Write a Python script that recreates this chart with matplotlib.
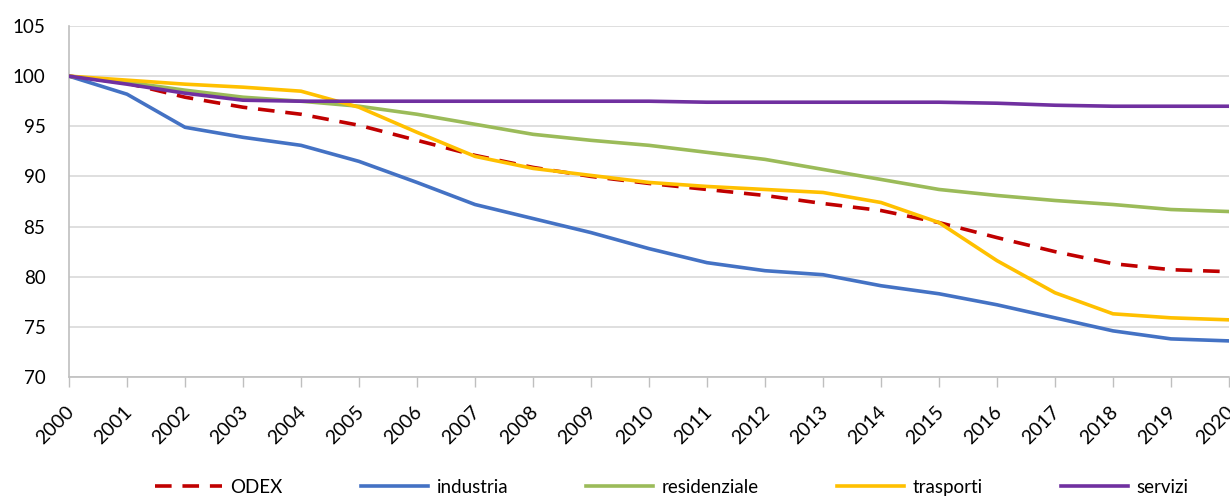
import matplotlib
matplotlib.use("Agg")
import matplotlib.pyplot as plt
from matplotlib.transforms import ScaledTranslation

years = list(range(2000, 2021))
odex = [100, 99.3, 97.9, 96.9, 96.2, 95.1, 93.6, 92.1, 90.9, 90.0, 89.3, 88.7, 88.1, 87.3, 86.6, 85.4, 83.9, 82.5, 81.3, 80.7, 80.5]
industria = [100, 98.2, 94.9, 93.9, 93.1, 91.5, 89.4, 87.2, 85.8, 84.4, 82.8, 81.4, 80.6, 80.2, 79.1, 78.3, 77.2, 75.9, 74.6, 73.8, 73.6]
residenziale = [100, 99.4, 98.6, 97.9, 97.5, 97.0, 96.2, 95.2, 94.2, 93.6, 93.1, 92.4, 91.7, 90.7, 89.7, 88.7, 88.1, 87.6, 87.2, 86.7, 86.5]
trasporti = [100, 99.6, 99.2, 98.9, 98.5, 96.9, 94.4, 92.0, 90.8, 90.1, 89.4, 89.0, 88.7, 88.4, 87.4, 85.4, 81.6, 78.4, 76.3, 75.9, 75.7]
servizi = [100, 99.2, 98.3, 97.6, 97.5, 97.5, 97.5, 97.5, 97.5, 97.5, 97.5, 97.4, 97.4, 97.4, 97.4, 97.4, 97.3, 97.1, 97.0, 97.0, 97.0]
yticks = [70, 75, 80, 85, 90, 95, 100, 105]

plt.rcParams['font.family'] = ['Lato', 'DejaVu Sans']

fig = plt.figure(figsize=(12.3, 4.97), dpi=100)
ax = fig.add_axes([69/1230, 1-377/497, (1229-69)/1230, (377-26)/497])

lw = 2.6
ax.plot(years, odex, color='#C00000', lw=lw, ls=(0, (4.6, 3.0)), label='ODEX', zorder=3)
ax.plot(years, industria, color='#4472C4', lw=lw, label='industria', zorder=3)
ax.plot(years, residenziale, color='#9BBB59', lw=lw, label='residenziale', zorder=3)
ax.plot(years, trasporti, color='#FFC000', lw=lw, label='trasporti', zorder=3)
ax.plot(years, servizi, color='#7030A0', lw=lw, label='servizi', zorder=3)

ax.set_xlim(2000, 2020)
ax.set_ylim(70, 105)
ax.set_yticks(yticks)
ax.set_yticklabels([str(v) for v in yticks], fontsize=13.5)
ax.set_xticks(years)
ax.set_xticklabels([str(y) for y in years], rotation=45, ha='right', va='top',
                   rotation_mode='anchor', fontsize=14)
ax.grid(axis='y', color='#D9D9D9', lw=1.2, zorder=0)
for s in ['top', 'right']:
    ax.spines[s].set_visible(False)
ax.spines['left'].set_color('#BFBFBF')
ax.spines['bottom'].set_color('#BFBFBF')
ax.spines['left'].set_linewidth(1.2)
ax.spines['bottom'].set_linewidth(1.2)
ax.tick_params(axis='y', length=0, pad=17)
ax.tick_params(axis='x', length=7, color='#BFBFBF', width=1, pad=11.5)
offset = ScaledTranslation(-4/100, 0, fig.dpi_scale_trans)
for lab in ax.get_xticklabels():
    lab.set_transform(lab.get_transform() + offset)

fig.legend(loc='center', bbox_to_anchor=(0.546, 0.02), ncol=5, frameon=False,
           fontsize=13.5, handlelength=3.6, handletextpad=0.45, columnspacing=4.15)

fig.savefig('out.png', dpi=100, facecolor='white')
